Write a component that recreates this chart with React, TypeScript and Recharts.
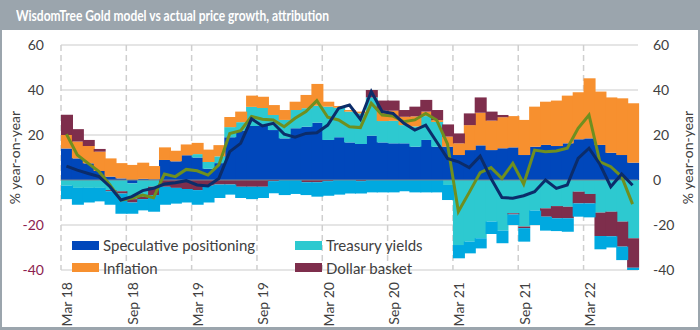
import {
  ComposedChart, Bar, Line, XAxis, YAxis, CartesianGrid, Legend, ReferenceLine,
} from 'recharts'

const SPEC_BLUE = '#0047bb'
const TEAL = '#2dc9d0'
const ORANGE = '#f7902f'
const MAROON = '#7e2e4c'
const LIGHT_BLUE = '#00a9e0'
const NAVY = '#0b2c6a'
const OLIVE = '#6f8f1f'
const TEXT = '#404040'

const MONTHS = [
  'Mar 18', 'Apr 18', 'May 18', 'Jun 18', 'Jul 18', 'Aug 18', 'Sep 18', 'Oct 18', 'Nov 18', 'Dec 18',
  'Jan 19', 'Feb 19', 'Mar 19', 'Apr 19', 'May 19', 'Jun 19', 'Jul 19', 'Aug 19', 'Sep 19', 'Oct 19',
  'Nov 19', 'Dec 19', 'Jan 20', 'Feb 20', 'Mar 20', 'Apr 20', 'May 20', 'Jun 20', 'Jul 20', 'Aug 20',
  'Sep 20', 'Oct 20', 'Nov 20', 'Dec 20', 'Jan 21', 'Feb 21', 'Mar 21', 'Apr 21', 'May 21', 'Jun 21',
  'Jul 21', 'Aug 21', 'Sep 21', 'Oct 21', 'Nov 21', 'Dec 21', 'Jan 22', 'Feb 22', 'Mar 22', 'Apr 22',
  'May 22', 'Jun 22', 'Jul 22',
]

const SPECULATIVE = [
  14, 9.6, 7.4, 4, 1.5, 0.7, -1.5, 0.5, 0.3, 8.9,
  8.3, 11, 10, 5, 7.5, 19, 22, 24, 24, 22.2,
  18.5, 23, 23.7, 25.5, 17.8, 19, 16.7, 16, 19.7, 16.7,
  16.3, 16.3, 14.8, 17.8, 14.8, 14.8, 11.1, 13.3, 15.4, 13.3,
  14.1, 14.5, 11.1, 14.8, 15.6, 15.1, 16.3, 18.1, 18.5, 15.6,
  12.1, 11.1, 7.7,
]

const TREASURY = [
  -2.5, -3.5, -3.5, -3.5, -4.5, -5, -7, -7.5, -3, 0,
  0, 0, 1.5, 3, 3, 4.5, 3.7, 8.5, 8, 6.7,
  8.2, 8.1, 8.2, 7.5, 14.8, 13.1, 13.7, 13.6, 17, 9.5,
  10, 8.1, 9, 10.6, 11, -2.2, -28.9, -27.4, -25.9, -18.5,
  -22.5, -14.8, -20.7, -13.6, -12.6, -11.6, -11.9, -5.2, -6.2, -14.5,
  -14.1, -18.5, -25.9,
]

const INFLATION = [
  6, 7.5, 7.7, 8.6, 8.1, 6.8, 6.7, 7.2, 5.9, 5.6,
  4.7, 4.8, 5, 5.5, 5, 4.5, 4.7, 5, 5, 4.4,
  4.4, 3.7, 5.9, 9.7, 2.2, 0.8, 0.7, 0.8, 0, 4.6,
  4.5, 3.7, 4.5, 2, 0.8, 4.5, 5.2, 11.1, 14.5, 13.1,
  13.8, 13.9, 15.6, 17.8, 19.2, 20.2, 21.2, 20.9, 26.7, 23.7,
  24.6, 25.2, 26.4,
]

const DOLLAR = [
  9, 5.5, 2.7, 1.2, -0.5, -1, -1.5, -1, -3.7, -3,
  -3.5, -4, -4.5, -2.5, -2, -2, -3, -3, -3, -0.5,
  0, 0, -1, -1, -0.5, 0, 0, -0.5, 3.3, 4.5,
  4.5, 3, 4.3, 5.2, 4.5, 5.4, 4.4, 5.2, 6.8, 4,
  1, -0.5, -0.7, 0, -3.7, -5.4, -5.1, -5.2, -4.2, -10.4,
  -10.9, -11.1, -13.1,
]

const OTHER = [
  -6, -7.5, -6.5, -6, -6, -9, -5, -5, -7.4, -8,
  -7, -6, -6.5, -7.5, -6, -4.5, -5, -5.5, -5, -5.4,
  -6.7, -6.2, -5.7, -6.4, -6.5, -6.5, -6, -5.5, -5.5, -5.5,
  -5.5, -5, -5.5, -5.5, -5.5, -6.7, -5.9, -5.2, -4.5, -5.5,
  -5.6, -4.7, -6, -6.4, -6.2, -5.7, -6, -5.9, -6.2, -5.9,
  -5, -6, -1,
]

const MODEL = [
  6.2, 4.4, 2.9, 1.5, -3, -8.9, -7.4, -4.7, -3.7, -1.8,
  -1.2, -0.3, -2.2, -2.7, 0.7, 12.6, 16.3, 27.2, 24, 25.2,
  20.4, 19, 20.7, 21, 24.4, 31.9, 33.3, 27, 39.3, 30.4,
  29.6, 25.2, 22.2, 24.4, 17, 9.6, 8.1, 5.5, 10.6, 0.7,
  -7.8, -8.1, -7, -5.2, 0, -3.7, -2.2, 9.6, 14.1, 7,
  -3, 2.7, -2.3,
]

const ACTUAL = [
  20.4, 11.1, 7.4, 3.7, -2.2, -8.9, -8.1, -6.7, -7.9, 2.7,
  1.5, 4.7, 4.1, 2.2, 6.7, 20.7, 21.9, 28.2, 27, 26.7,
  23.7, 27.4, 30.4, 35.3, 27.9, 26.7, 23.7, 23.3, 34.1, 28.9,
  28.4, 25.9, 26.7, 29.6, 26.7, 16, -14, -5.5, 3.3, 5.5,
  0.7, 7.4, -1.8, 13.3, 12.6, 12.9, 14.1, 23, 28.9, 8.1,
  5.9, 1.5, -10.7,
]

const Y_TICKS = [-40, -20, 0, 20, 40, 60]
// dashed vertical gridlines every six months, on the band edges
const GRID_MONTHS = MONTHS.map((_, i) => i).filter((i) => i % 6 === 0)
const LEGEND_ORDER = ['Speculative positioning', 'Treasury yields', 'Inflation', 'Dollar basket']

const data = MONTHS.map((month, i) => ({
  month,
  spec: SPECULATIVE[i],
  treasury: TREASURY[i],
  inflation: INFLATION[i],
  dollar: DOLLAR[i],
  other: OTHER[i],
  model: MODEL[i],
  actual: ACTUAL[i],
}))

const FONT = 'Lato, "Open Sans", sans-serif'

function MonthTick({ x, y, payload }: any) {
  return (
    <text x={x} y={y} transform={`rotate(-90, ${x}, ${y})`} textAnchor="end" dy="0.42em"
      fill={TEXT} fontSize={14} fontFamily={FONT}>
      {payload.value}
    </text>
  )
}

function LeftTick({ x, y, payload }: any) {
  return (
    <text x={x} y={y} textAnchor="end" dy="0.36em" fontSize={14} fontFamily={FONT}
      fill={payload.value < 0 ? '#8c1d4e' : TEXT}>
      {payload.value}
    </text>
  )
}

function RightTick({ x, y, payload }: any) {
  return (
    <text x={x} y={y} textAnchor="start" dy="0.36em" fontSize={14} fontFamily={FONT} fill={TEXT}>
      {payload.value}
    </text>
  )
}

function axisLabel(cx: number) {
  return ({ viewBox }: any) => {
    const cy = viewBox.y + viewBox.height / 2
    return (
      <text x={cx} y={cy} transform={`rotate(-90, ${cx}, ${cy})`} textAnchor="middle" dy="0.35em"
        fontSize={14} fontFamily={FONT} fill={TEXT}>
        % year-on-year
      </text>
    )
  }
}

function LegendBox({ payload }: any) {
  const items = LEGEND_ORDER.map((name) => (payload || []).find((p: any) => p.value === name)).filter(Boolean)
  return (
    <div style={{ display: 'grid', gridTemplateColumns: '223px auto', fontFamily: FONT, fontSize: 15, color: TEXT }}>
      {items.map((p: any) => (
        <div key={p.value} style={{ display: 'flex', alignItems: 'center', height: 22.5 }}>
          <span style={{ width: 27, height: 9, background: p.color, marginRight: 4, display: 'inline-block' }} />
          <span>{p.value}</span>
        </div>
      ))}
    </div>
  )
}

// recharts floors the bar width, so widen each block by 1px to close the seams between months
function SolidBlock({ x, y, width, height, fill }: any) {
  if (!height || !width) return null
  const top = height < 0 ? y + height : y
  return <rect x={x} y={top} width={width + 1} height={Math.abs(height)} fill={fill} />
}

// band edges of the category axis: plot left + i * band width
const monthEdges = ({ offset }: any) =>
  GRID_MONTHS.map((i) => offset.left + (i * offset.width) / MONTHS.length)

export default function App() {
  return (
    <div style={{ position: 'relative', width: 700, height: 330, background: '#fff', fontFamily: FONT }}>
      <style>{'body{margin:0}'}</style>
      <div style={{
        position: 'absolute', left: 0, top: 0, width: 700, height: 30, background: '#9ba5ad', overflow: 'hidden',
      }}>
        <div style={{
          position: 'absolute', left: 16, top: 0, color: '#fff', fontWeight: 700, fontSize: 16, lineHeight: '30px',
          whiteSpace: 'nowrap', transform: 'scaleX(0.75)', transformOrigin: 'left center',
        }}>
          WisdomTree Gold model vs actual price growth, attribution
        </div>
      </div>
      <div style={{ position: 'absolute', left: 0, top: 30 }}>
        <ComposedChart width={700} height={297} data={data} stackOffset="sign"
          barCategoryGap={0} barGap={0} margin={{ top: 15, right: 0, left: 0, bottom: 0 }}>
          <CartesianGrid yAxisId="left" vertical={false} stroke="#dcdcdc" strokeWidth={1.5} />
          <CartesianGrid yAxisId="left" horizontal={false} stroke="#cfcfcf" strokeWidth={1.5}
            strokeDasharray="6 4" verticalCoordinatesGenerator={monthEdges} />
          <XAxis dataKey="month" interval={5} tickLine={false} axisLine={false} height={57}
            tickSize={0} tickMargin={12} tick={<MonthTick />} />
          <YAxis yAxisId="left" domain={[-40, 60]} ticks={Y_TICKS} width={61} tickLine={false}
            axisLine={false} tickSize={0} tickMargin={17} tick={<LeftTick />} label={axisLabel(15)} />
          <YAxis yAxisId="right" orientation="right" domain={[-40, 60]} ticks={Y_TICKS} width={62}
            tickLine={false} axisLine={false} tickSize={0} tickMargin={15} tick={<RightTick />}
            label={axisLabel(688)} />
          <Legend layout="horizontal" verticalAlign="middle" align="center" content={<LegendBox />}
            wrapperStyle={{ left: 72, top: 204, width: 420 }} />
          <Bar yAxisId="left" dataKey="spec" name="Speculative positioning" stackId="a" fill={SPEC_BLUE}
            shape={<SolidBlock />} isAnimationActive={false} />
          <Bar yAxisId="left" dataKey="treasury" name="Treasury yields" stackId="a" fill={TEAL}
            shape={<SolidBlock />} isAnimationActive={false} />
          <Bar yAxisId="left" dataKey="inflation" name="Inflation" stackId="a" fill={ORANGE}
            shape={<SolidBlock />} isAnimationActive={false} />
          <Bar yAxisId="left" dataKey="dollar" name="Dollar basket" stackId="a" fill={MAROON}
            shape={<SolidBlock />} isAnimationActive={false} />
          <Bar yAxisId="left" dataKey="other" name="Other" stackId="a" fill={LIGHT_BLUE}
            shape={<SolidBlock />} legendType="none" isAnimationActive={false} />
          <ReferenceLine yAxisId="left" y={0} stroke="#7b8690" strokeWidth={1} />
          <Line yAxisId="right" dataKey="actual" name="Actual" stroke={OLIVE} strokeWidth={3} dot={false}
            legendType="none" isAnimationActive={false} />
          <Line yAxisId="right" dataKey="model" name="Model" stroke={NAVY} strokeWidth={3} dot={false}
            legendType="none" isAnimationActive={false} />
        </ComposedChart>
      </div>
      <div style={{
        position: 'absolute', left: 0, top: 30, width: 700, height: 300, boxSizing: 'border-box',
        borderLeft: '2px solid #9ba5ad', borderRight: '2px solid #9ba5ad', borderBottom: '3px solid #9ba5ad',
        pointerEvents: 'none',
      }} />
    </div>
  )
}
